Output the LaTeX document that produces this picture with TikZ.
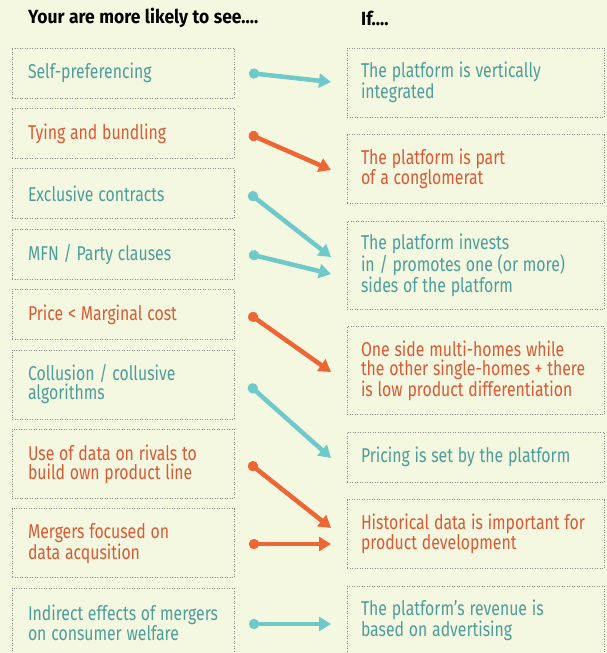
\documentclass[tikz,border=0pt]{standalone}
\usepackage{fontspec}
\setmainfont{Fira Sans}[FakeStretch=0.79]
\newfontfamily\headfont{Fira Sans}[FakeStretch=0.92]
\usepackage{xcolor}
\usetikzlibrary{positioning,arrows.meta}

\definecolor{bgpale}{HTML}{F4F8E0}
\definecolor{boxgray}{HTML}{8C8C8C}
\definecolor{tealtext}{HTML}{4E9D9B}
\definecolor{tealline}{HTML}{6FC8C9}
\definecolor{orangetext}{HTML}{D95A35}
\definecolor{orangeline}{HTML}{EE6633}
\hyphenpenalty=10000
\newcommand\boxfont{\fontsize{20}{19}\selectfont\spaceskip=4.8pt plus 1pt minus 1pt\relax}
\newcommand\headerfont{\headfont\bfseries\fontsize{19}{19}\selectfont\spaceskip=4.5pt plus 1pt minus 1pt\relax}

\begin{document}
\begin{tikzpicture}[x=1pt, y=-1pt,
  lbox/.style={draw=boxgray, dash pattern=on 1pt off 1.5pt, line width=0.8pt, outer sep=0pt, minimum width=222pt, text width=190pt, inner xsep=16pt, align=flush left, font=\boxfont},
  rbox/.style={draw=boxgray, dash pattern=on 1pt off 1.5pt, line width=0.8pt, outer sep=0pt, minimum width=257pt, text width=229pt, inner xsep=14pt, align=flush left, font=\boxfont},
  oneline/.style={minimum height=50pt},
  twoline/.style={minimum height=69pt},
  threeline/.style={minimum height=88pt},
  head/.style={anchor=west, font=\headerfont, inner sep=0pt},
  tealarrow/.style={{Circle[length=10pt]}-{Triangle[length=12pt, width=14pt]}, line width=4.5pt, tealline},
  orangearrow/.style={{Circle[length=10pt]}-{Triangle[length=12pt, width=14pt]}, line width=4.5pt, orangeline}
]
\fill[bgpale] (0,0) rectangle (607,653);
\useasboundingbox (0,0) rectangle (607,653);

% headers
\node[head] (hleft) at (28,18) {Your are more likely to see....};
\node[head] (hright) at (361,18) {If....};

% left column
\node[lbox, oneline, anchor=north west, text=tealtext] (l1) at (12,48) {Self-preferencing};
\node[lbox, oneline, below=10.4pt of l1, text=orangetext] (l2) {Tying and bundling};
\node[lbox, oneline, below=10.4pt of l2, text=tealtext] (l3) {Exclusive contracts};
\node[lbox, oneline, below=10.4pt of l3, text=tealtext] (l4) {MFN / Party clauses};
\node[lbox, oneline, below=10.4pt of l4, text=orangetext] (l5) {Price < Marginal cost};
\node[lbox, twoline, below=10.4pt of l5, text=tealtext] (l6) {Collusion / collusive\\algorithms};
\node[lbox, twoline, below=10.4pt of l6, text=orangetext] (l7) {Use of data on rivals to\\build own product line};
\node[lbox, twoline, below=10.4pt of l7, text=orangetext] (l8) {Mergers focused on\\data acqusition};
\node[lbox, twoline, below=10.4pt of l8, text=tealtext] (l9) {Indirect effects of mergers\\on consumer welfare};

% right column
\node[rbox, twoline, anchor=north west, text=tealtext] (r1) at (347,48) {The platform is vertically\\integrated};
\node[rbox, twoline, below=17.5pt of r1, text=orangetext] (r2) {The platform is part\\of a conglomerat};
\node[rbox, threeline, below=17.5pt of r2, text=tealtext] (r3) {The platform invests\\in / promotes one (or more)\\sides of the platform};
\node[rbox, threeline, below=17.5pt of r3, text=orangetext] (r4) {One side multi-homes while\\the other single-homes + there\\is low product differentiation};
\node[rbox, oneline, below=17.5pt of r4, text=tealtext] (r5) {Pricing is set by the platform};
\node[rbox, twoline, below=17.5pt of r5, text=orangetext] (r6) {Historical data is important for\\product development};
\node[rbox, twoline, below=17.5pt of r6, text=tealtext] (r7) {The platform's revenue is\\based on advertising};

% arrow ends
\coordinate (s1) at (249,73);  \coordinate (t1) at (331,82);
\coordinate (s2) at (249,134); \coordinate (t2) at (331,170);
\coordinate (s3) at (249,193); \coordinate (t3) at (331,257);
\coordinate (s4) at (249,254); \coordinate (t4) at (331,274);
\coordinate (s5) at (249,314); \coordinate (t5) at (331,372);
\coordinate (s6) at (249,385); \coordinate (t6) at (331,458);
\coordinate (s7) at (249,463); \coordinate (t7) at (331,528);
\coordinate (s8) at (249,544); \coordinate (t8) at (331,544);
\coordinate (s9) at (249,624); \coordinate (t9) at (331,624);

\draw[tealarrow] (s1) -- (t1);
\draw[orangearrow] (s2) -- (t2);
\draw[tealarrow] (s3) -- (t3);
\draw[tealarrow] (s4) -- (t4);
\draw[orangearrow] (s5) -- (t5);
\draw[tealarrow] (s6) -- (t6);
\draw[orangearrow] (s7) -- (t7);
\draw[orangearrow] (s8) -- (t8);
\draw[tealarrow] (s9) -- (t9);
\end{tikzpicture}
\end{document}
